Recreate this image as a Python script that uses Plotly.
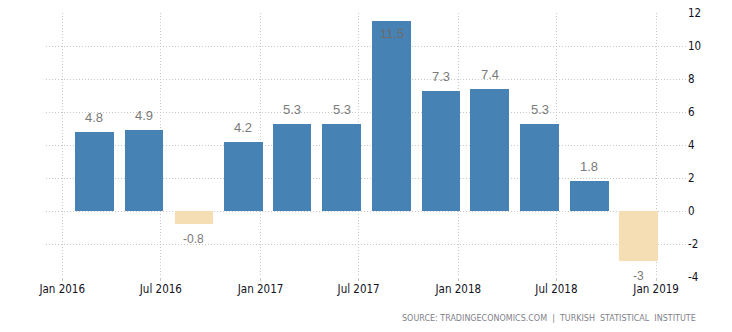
import plotly.graph_objects as go

# Data
quarters = ["2016-02-29", "2016-05-31", "2016-08-31", "2016-11-30",
            "2017-02-28", "2017-05-31", "2017-08-31", "2017-11-30",
            "2018-02-28", "2018-05-31", "2018-08-31", "2018-11-30"]
values = [4.8, 4.9, -0.8, 4.2, 5.3, 5.3, 11.5, 7.3, 7.4, 5.3, 1.8, -3]
x_tick_vals = ["2016-01-01", "2016-07-01", "2017-01-01", "2017-07-01",
               "2018-01-01", "2018-07-01", "2019-01-01"]
x_tick_text = ["Jan 2016", "Jul 2016", "Jan 2017", "Jul 2017",
               "Jan 2018", "Jul 2018", "Jan 2019"]
y_tick_vals = [-4, -2, 0, 2, 4, 6, 8, 10, 12]
y_tick_text = ["-4", "-2", "0", "2", "4", "6", "8", "10", "12"]
source_text = "SOURCE: TRADINGECONOMICS.COM  |  TURKISH  STATISTICAL  INSTITUTE"

POS = "#4682B4"
NEG = "#F5DEB3"
DAY_MS = 86400000
GRID_DASH = "1px,2px"

colors = [POS if v >= 0 else NEG for v in values]

fig = go.Figure()
fig.add_trace(go.Bar(
    x=quarters, y=values,
    marker=dict(color=colors, line=dict(width=0)),
    width=[71.5 * DAY_MS] * len(values),
    hoverinfo="skip",
))

annotations = []
for xq, v in zip(quarters, values):
    label = f"{v:g}"
    if v > 10.5:
        annotations.append(dict(x=xq, y=v, xref="x", yref="y", text=label,
                                showarrow=False, yanchor="top", yshift=-3,
                                font=dict(family="Liberation Sans", size=13, color="#6d6d6d")))
    elif v >= 0:
        annotations.append(dict(x=xq, y=v, xref="x", yref="y", text=label,
                                showarrow=False, yanchor="bottom", yshift=5,
                                font=dict(family="Liberation Sans", size=13, color="#7a7a7a")))
    else:
        annotations.append(dict(x=xq, y=v, xref="x", yref="y", text=label,
                                showarrow=False, yanchor="top", yshift=-6,
                                font=dict(family="Liberation Sans", size=12, color="#7a7a7a")))

annotations.append(dict(x=1.017, y=-0.158, xref="paper", yref="paper",
                        text=source_text, showarrow=False,
                        xanchor="right", yanchor="middle",
                        font=dict(family="DejaVu Sans", size=8, color="#7f7f8c")))

fig.update_layout(
    width=732, height=332,
    margin=dict(l=46, r=45, t=13, b=55, autoexpand=False),
    paper_bgcolor="white", plot_bgcolor="white",
    showlegend=False,
    annotations=annotations,
    bargap=0,
    xaxis=dict(
        type="date",
        range=["2015-12-02", "2019-02-27"],
        tickvals=x_tick_vals, ticktext=x_tick_text,
        showgrid=True, gridcolor="#c8c8c8", griddash=GRID_DASH, gridwidth=1,
        ticks="outside", ticklen=3, tickcolor="#c8c8c8",
        ticklabelstandoff=-2,
        showline=False, zeroline=False, automargin=False,
        tickfont=dict(family="DejaVu Sans Condensed", size=11.5, color="#111122"),
    ),
    yaxis=dict(
        side="right",
        range=[-4, 12],
        tickvals=y_tick_vals, ticktext=y_tick_text,
        showgrid=True, gridcolor="#c8c8c8", griddash=GRID_DASH, gridwidth=1,
        zeroline=False, showline=False, ticks="", automargin=False,
        tickfont=dict(family="DejaVu Sans Condensed", size=11.5, color="#111122"),
    ),
)

fig.write_html("out.html")
